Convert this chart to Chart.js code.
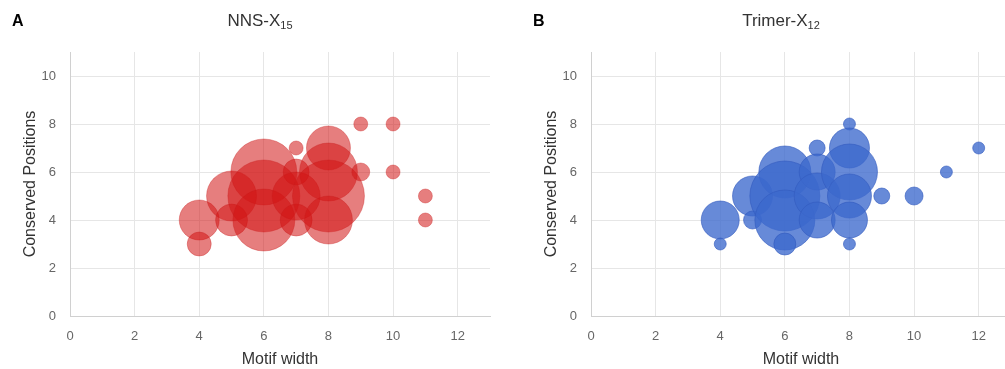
<!DOCTYPE html>
<html>
<head>
<meta charset="utf-8">
<script src="https://cdn.jsdelivr.net/npm/chart.js@4.4.1/dist/chart.umd.min.js"></script>
<style>
  html, body { margin: 0; padding: 0; background: #fff; overflow: hidden; width: 1005px; height: 369px; }
  .panel { position: absolute; top: 0; width: 500px; height: 369px; }
  .panel canvas { position: absolute; left: 0; top: 0; }
  .letter { position: absolute; left: 12px; top: 12px; font: bold 16px "Liberation Sans", Arial, sans-serif; color: #000; }
  .title { position: absolute; top: 11px; left: 70px; width: 380px; text-align: center; font: 17px "Liberation Sans", Arial, sans-serif; color: #333; }
  .title sub { font-size: 11px; vertical-align: -3px; }
</style>
</head>
<body>
<div class="panel" style="left:0px">
  <canvas id="c1" width="500" height="369"></canvas>
  <div class="letter">A</div>
  <div class="title">NNS-X<sub>15</sub></div>
</div>
<div class="panel" style="left:521px">
  <canvas id="c2" width="500" height="369"></canvas>
  <div class="letter">B</div>
  <div class="title">Trimer-X<sub>12</sub></div>
</div>
<script>
// ---- data (motif width, conserved positions, bubble size) ----
const xTicks = [0, 2, 4, 6, 8, 10, 12];
const yTicks = [0, 2, 4, 6, 8, 10];

const nnsWidth     = [4, 4, 5, 5, 6, 6, 6, 7, 7, 7, 7, 8, 8, 8, 8, 9, 9, 10, 10, 11, 11];
const nnsPositions = [4, 3, 5, 4, 6, 5, 4, 7, 6, 5, 4, 7, 6, 5, 4, 8, 6, 8, 6, 5, 4];
const nnsSize      = [20, 12, 25, 16, 33, 36, 31, 7, 13, 24, 16, 22, 29, 36, 24, 7, 9, 7, 7, 7, 7];

const triWidth     = [4, 4, 5, 5, 6, 6, 6, 6, 7, 7, 7, 7, 8, 8, 8, 8, 8, 8, 9, 10, 11, 12];
const triPositions = [4, 3, 5, 4, 6, 5, 4, 3, 7, 6, 5, 4, 8, 7, 6, 5, 4, 3, 5, 5, 6, 7];
const triSize      = [19, 6, 20, 9, 26, 35, 30, 11, 8, 18, 23, 18, 6, 20, 28, 22, 18, 6, 8, 9, 6, 6];

function points(xs, ys, rs) {
  return xs.map((x, i) => ({ x: x, y: ys[i], r: rs[i] }));
}

const FONT = '"Liberation Sans", Arial, sans-serif';

function makeChart(id, data, fill, stroke) {
  return new Chart(document.getElementById(id), {
    type: 'bubble',
    data: {
      datasets: [{
        data: data,
        backgroundColor: fill,
        borderColor: stroke,
        borderWidth: 1
      }]
    },
    options: {
      responsive: false,
      animation: false,
      events: [],
      layout: { autoPadding: false, padding: { top: 52, right: 10, left: 21, bottom: 0 } },
      plugins: { legend: { display: false }, tooltip: { enabled: false }, title: { display: false } },
      scales: {
        x: {
          type: 'linear', min: 0, max: 13,
          afterBuildTicks: s => { s.ticks = xTicks.map(v => ({ value: v })); },
          afterFit: s => { s.height = 53; },
          grid: { color: '#e6e6e6', drawTicks: false },
          border: { color: '#d0d0d0' },
          ticks: { padding: 13, color: '#666', font: { family: FONT, size: 13 } },
          title: { display: true, text: 'Motif width', color: '#333', font: { family: FONT, size: 16 }, padding: { top: 2, bottom: 0 } }
        },
        y: {
          type: 'linear', min: 0, max: 11,
          afterBuildTicks: s => { s.ticks = yTicks.map(v => ({ value: v })); },
          afterFit: s => { s.width = 49; },
          grid: { color: '#e6e6e6', drawTicks: false },
          border: { color: '#d0d0d0' },
          ticks: { padding: 14, color: '#666', font: { family: FONT, size: 13 } },
          title: { display: true, text: 'Conserved Positions', color: '#333', font: { family: FONT, size: 16 }, padding: { top: 0, bottom: 0 } }
        }
      }
    }
  });
}

makeChart('c1', points(nnsWidth, nnsPositions, nnsSize), 'rgba(210, 20, 20, 0.55)', 'rgba(200, 30, 30, 0.35)');
makeChart('c2', points(triWidth, triPositions, triSize), 'rgba(60, 105, 205, 0.78)', 'rgba(50, 90, 190, 0.6)');
</script>
</body>
</html>
